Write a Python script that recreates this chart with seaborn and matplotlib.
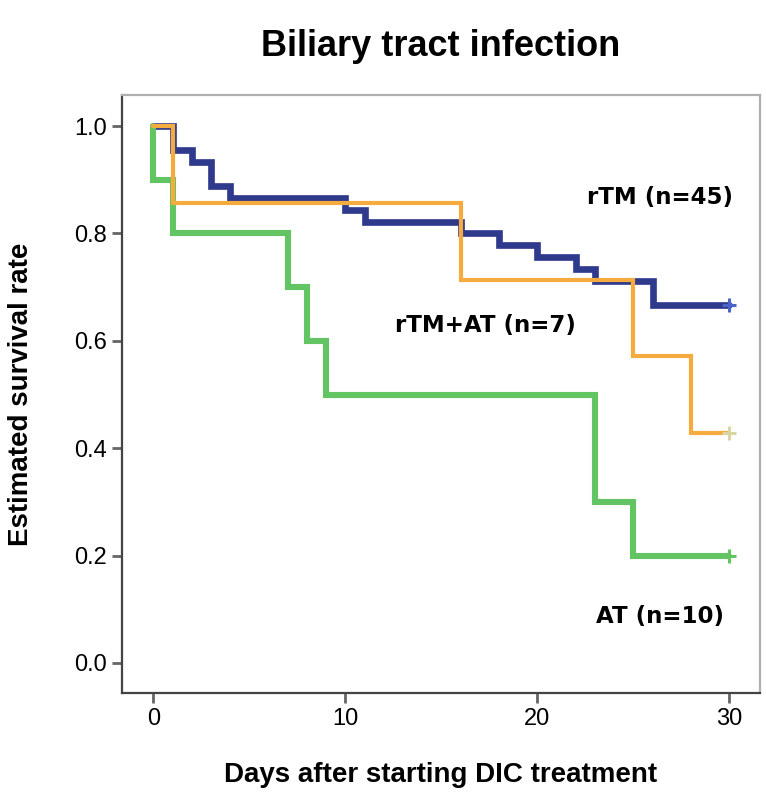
import matplotlib
matplotlib.use('Agg')
import matplotlib.pyplot as plt
import seaborn as sns
import pandas as pd

# Kaplan-Meier step data
rtm_days = [0, 1, 2, 3, 4, 10, 11, 16, 18, 20, 22, 23, 26, 30]
rtm_surv = [1.0, 0.956, 0.933, 0.889, 0.867, 0.844, 0.822, 0.800, 0.778, 0.756, 0.733, 0.711, 0.667, 0.667]

rtm_at_days = [0, 1, 16, 25, 28, 30]
rtm_at_surv = [1.0, 0.857, 0.714, 0.571, 0.429, 0.429]

at_days = [0, 0, 1, 7, 8, 9, 23, 25, 30]
at_surv = [1.0, 0.9, 0.8, 0.7, 0.6, 0.5, 0.3, 0.2, 0.2]

group_labels = ['rTM (n=45)', 'rTM+AT (n=7)', 'AT (n=10)']
line_colors = ['#2f3a8c', '#f5ab3e', '#62c462']
censor_colors = ['#4a64c8', '#d9d6a2', '#62c462']

x_ticks = [0, 10, 20, 30]
y_ticks = [0.0, 0.2, 0.4, 0.6, 0.8, 1.0]

sns.set_style('ticks')
plt.rcParams['font.family'] = ['Liberation Sans', 'DejaVu Sans']
plt.rcParams['text.color'] = 'black'
plt.rcParams['axes.labelcolor'] = 'black'
plt.rcParams['xtick.labelcolor'] = 'black'
plt.rcParams['ytick.labelcolor'] = 'black'

fig = plt.figure(figsize=(7.66, 7.96), dpi=100)
ax = fig.add_axes([122 / 766, 1 - 693 / 796, 638 / 766, 598 / 796])

curves = [
    (rtm_days, rtm_surv, 0, 4.8),
    (at_days, at_surv, 2, 4.4),
    (rtm_at_days, rtm_at_surv, 1, 3.0),
]
for days, surv, i, lw in curves:
    df = pd.DataFrame({'day': days, 'surv': surv})
    sns.lineplot(data=df, x='day', y='surv', ax=ax, color=line_colors[i],
                 linewidth=lw, drawstyle='steps-post', sort=False,
                 estimator=None, solid_joinstyle='miter')
    # censored mark at the end of follow-up
    sns.scatterplot(x=[days[-1]], y=[surv[-1]], ax=ax, marker='+', s=110,
                    color=censor_colors[i], linewidth=2.2, zorder=5)

ax.set_xlim(-1.64, 31.6)
ax.set_ylim(-0.056, 1.058)
ax.set_xticks(x_ticks)
ax.set_yticks(y_ticks)
ax.set_xticklabels([str(t) for t in x_ticks])
ax.set_yticklabels([f'{t:.1f}' for t in y_ticks])
ax.tick_params(axis='both', direction='out', length=7, width=2,
               color='#666666', labelsize=17, pad=4)

for side in ['left', 'bottom']:
    ax.spines[side].set_color('#444444')
    ax.spines[side].set_linewidth(1.6)
for side in ['top', 'right']:
    ax.spines[side].set_visible(True)
    ax.spines[side].set_color('#b0b0b0')
    ax.spines[side].set_linewidth(1.6)

# group labels
ax.text(26.4, 0.867, group_labels[0], ha='center', va='center',
        fontsize=16.5, fontweight='bold', family='DejaVu Sans')
ax.text(17.3, 0.629, group_labels[1], ha='center', va='center',
        fontsize=16.5, fontweight='bold', family='DejaVu Sans')
ax.text(26.4, 0.086, group_labels[2], ha='center', va='center',
        fontsize=16.5, fontweight='bold', family='DejaVu Sans')

ax.set_xlabel('Days after starting DIC treatment', fontsize=20, fontweight='bold')
ax.set_ylabel('Estimated survival rate', fontsize=20, fontweight='bold')
ax.xaxis.set_label_coords(0.5, -0.137)
ax.yaxis.set_label_coords(-0.158, 0.5)
ax.xaxis.label.set_va('center')
ax.yaxis.label.set_va('center')

fig.text(441 / 766, 1 - 47 / 796, 'Biliary tract infection', ha='center',
         va='center', fontsize=26, fontweight='bold')

fig.savefig('out.png', dpi=100)
